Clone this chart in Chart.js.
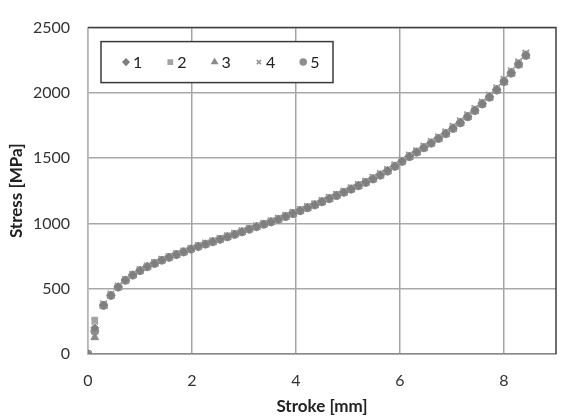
<!DOCTYPE html>
<html>
<head>
<meta charset="utf-8">
<script src="https://cdn.jsdelivr.net/npm/chart.js@4.4.1/dist/chart.umd.min.js"></script>
<style>
  html, body { margin: 0; padding: 0; background: #fff; }
  #wrap { width: 562px; height: 417px; }
</style>
</head>
<body>
<div id="wrap"><canvas id="stressChart" width="562" height="417"></canvas></div>
<script>
// stroke [mm], shared by all five runs
const stroke = [0, 0.13, 0.30, 0.44, 0.58, 0.72, 0.86, 1.00, 1.14, 1.28, 1.42, 1.56, 1.70, 1.84, 1.98,
	2.12, 2.26, 2.40, 2.54, 2.68, 2.82, 2.96, 3.10, 3.24, 3.38, 3.52, 3.66, 3.80, 3.94, 4.08, 4.22,
	4.36, 4.50, 4.64, 4.78, 4.92, 5.06, 5.20, 5.34, 5.48, 5.62, 5.76, 5.90, 6.04, 6.18, 6.32, 6.46,
	6.60, 6.74, 6.88, 7.02, 7.16, 7.30, 7.44, 7.58, 7.72, 7.86, 8.00, 8.14, 8.28, 8.42];

// stress [MPa] per run
const run1 = [0, 200, 375, 450, 515, 566, 606, 640, 670, 695, 720, 742, 763, 783, 805, 825, 843, 861,
	880, 899, 918, 937, 957, 976, 995, 1013, 1033, 1055, 1078, 1100, 1122, 1144, 1168, 1192, 1216, 1240,
	1265, 1290, 1316, 1343, 1372, 1405, 1440, 1478, 1514, 1548, 1582, 1617, 1653, 1690, 1731, 1774,
	1820, 1868, 1918, 1970, 2025, 2090, 2155, 2222, 2290];
const run2 = [0, 260, 380, 455, 518, 570, 609, 644, 672, 699, 723, 746, 766, 787, 808, 828, 847, 865,
	884, 903, 922, 941, 961, 980, 999, 1018, 1038, 1060, 1083, 1105, 1127, 1149, 1173, 1197, 1221, 1246,
	1271, 1296, 1322, 1350, 1379, 1410, 1446, 1484, 1520, 1554, 1589, 1624, 1660, 1698, 1739, 1782,
	1828, 1876, 1926, 1979, 2034, 2099, 2164, 2231, 2298];
const run3 = [0, 127, 368, 446, 510, 562, 602, 636, 666, 691, 716, 738, 759, 779, 801, 821, 839, 857,
	876, 895, 914, 933, 953, 972, 991, 1009, 1029, 1050, 1073, 1095, 1117, 1139, 1163, 1187, 1211, 1235,
	1260, 1285, 1311, 1337, 1366, 1398, 1434, 1472, 1508, 1542, 1576, 1611, 1647, 1684, 1724, 1767,
	1813, 1861, 1911, 1962, 2017, 2082, 2147, 2214, 2282];
const run4 = [0, 250, 385, 460, 522, 573, 612, 646, 675, 701, 726, 748, 769, 790, 811, 831, 850, 868,
	887, 906, 925, 944, 964, 983, 1002, 1021, 1041, 1063, 1086, 1108, 1130, 1152, 1176, 1200, 1224, 1249,
	1274, 1299, 1326, 1354, 1383, 1414, 1450, 1488, 1524, 1558, 1593, 1628, 1664, 1702, 1744, 1787,
	1833, 1881, 1931, 1984, 2040, 2105, 2170, 2238, 2306];
const run5 = [0, 175, 372, 448, 512, 564, 604, 638, 668, 693, 718, 740, 761, 781, 803, 823, 841, 859,
	878, 897, 916, 935, 955, 974, 993, 1011, 1031, 1052, 1075, 1097, 1119, 1141, 1165, 1189, 1213, 1238,
	1262, 1288, 1313, 1340, 1369, 1400, 1437, 1475, 1511, 1545, 1579, 1614, 1650, 1687, 1727, 1770,
	1816, 1864, 1914, 1966, 2021, 2086, 2151, 2218, 2286];

const runLabels = ["1", "2", "3", "4", "5"];
const xTicks = [0, 2, 4, 6, 8];
const yTicks = [0, 500, 1000, 1500, 2000, 2500];

const runs = [run1, run2, run3, run4, run5];
const styles = [
	{ pointStyle: "rectRot", color: "#7f7f7f", radius: 4 },
	{ pointStyle: "rect", color: "#a3a3a3", radius: 4 },
	{ pointStyle: "triangle", color: "#8a8a8a", radius: 4.5 },
	{ pointStyle: "crossRot", color: "#8c8c8c", radius: 4.5 },
	{ pointStyle: "circle", color: "#8e8e8e", radius: 4 },
];

const datasets = runs.map((r, i) => ({
	label: runLabels[i],
	data: stroke.map((x, j) => ({ x: x, y: r[j] })),
	pointStyle: styles[i].pointStyle,
	pointRadius: styles[i].radius,
	backgroundColor: styles[i].color,
	borderColor: styles[i].color,
	borderWidth: styles[i].pointStyle === "crossRot" ? 1.5 : 1,
	showLine: false,
}));

// legend box drawn inside the plot, top-left
const boxLegend = {
	id: "boxLegend",
	afterDraw(chart) {
		const ctx = chart.ctx;
		const a = chart.chartArea;
		const x0 = a.left + 13, y0 = a.top + 14, w = 232, h = 41;
		ctx.save();
		ctx.fillStyle = "#fff";
		ctx.fillRect(x0, y0, w, h);
		ctx.strokeStyle = "#3a3a3a";
		ctx.lineWidth = 1.5;
		ctx.strokeRect(x0, y0, w, h);
		ctx.font = "16px Lato";
		ctx.textBaseline = "middle";
		const cy = y0 + h / 2;
		runLabels.forEach((lab, i) => {
			const mx = x0 + 25 + i * 44.3;
			const st = styles[i];
			ctx.fillStyle = st.color;
			ctx.strokeStyle = st.color;
			Chart.helpers.drawPoint(ctx, {
				pointStyle: st.pointStyle,
				radius: 3,
				borderWidth: st.pointStyle === "crossRot" ? 1.3 : 1,
				rotation: 0,
			}, mx, cy);
			ctx.fillStyle = "#222";
			ctx.fillText(lab, mx + 7, cy + 1);
		});
		ctx.restore();
	},
};

// dark frame on the top and right of the plot area
const plotFrame = {
	id: "plotFrame",
	beforeDatasetsDraw(chart) {
		const ctx = chart.ctx;
		const a = chart.chartArea;
		ctx.save();
		ctx.strokeStyle = "#404040";
		ctx.lineWidth = 1.5;
		ctx.beginPath();
		ctx.moveTo(a.left, a.top);
		ctx.lineTo(a.right, a.top);
		ctx.lineTo(a.right, a.bottom);
		ctx.stroke();
		ctx.restore();
	},
};

const cfg = {
	type: "scatter",
	data: { datasets: datasets },
	options: {
		responsive: false,
		animation: false,
		layout: { padding: { left: 0, top: 11, right: 4, bottom: 0 } },
		plugins: {
			legend: { display: false },
			tooltip: { enabled: false },
		},
		scales: {
			x: {
				type: "linear",
				min: 0,
				max: 9,
				afterBuildTicks: (axis) => { axis.ticks = xTicks.map((v) => ({ value: v })); },
				afterFit: (axis) => { axis.height = 63; },
				grid: { color: "#a3a3a3", lineWidth: 1.5, drawTicks: false },
				border: { color: "#8a8a8a", width: 1.5 },
				ticks: {
					padding: 17, color: "#333", font: { family: "Lato", size: 16 },
					callback: (v) => String(v),
				},
				title: {
					display: true,
					text: "Stroke [mm]",
					color: "#222",
					font: { family: "Lato", size: 17, weight: "bold" },
					padding: { top: 0, bottom: 0 },
				},
			},
			y: {
				min: 0,
				max: 2500,
				afterBuildTicks: (axis) => { axis.ticks = yTicks.map((v) => ({ value: v })); },
				afterFit: (axis) => { axis.width = 88; },
				grid: { color: "#a8a8a8", lineWidth: 1.5, drawTicks: false },
				border: { color: "#b5b5b5", width: 1.5 },
				ticks: {
					padding: 18, color: "#333", font: { family: "Lato", size: 16 },
					callback: (v) => String(v),
				},
				title: {
					display: true,
					text: "Stress [MPa]",
					color: "#222",
					font: { family: "Lato", size: 17, weight: "bold" },
					padding: { top: 6, bottom: 0 },
				},
			},
		},
	},
	plugins: [plotFrame, boxLegend],
};

new Chart(document.getElementById("stressChart"), cfg);
</script>
</body>
</html>
